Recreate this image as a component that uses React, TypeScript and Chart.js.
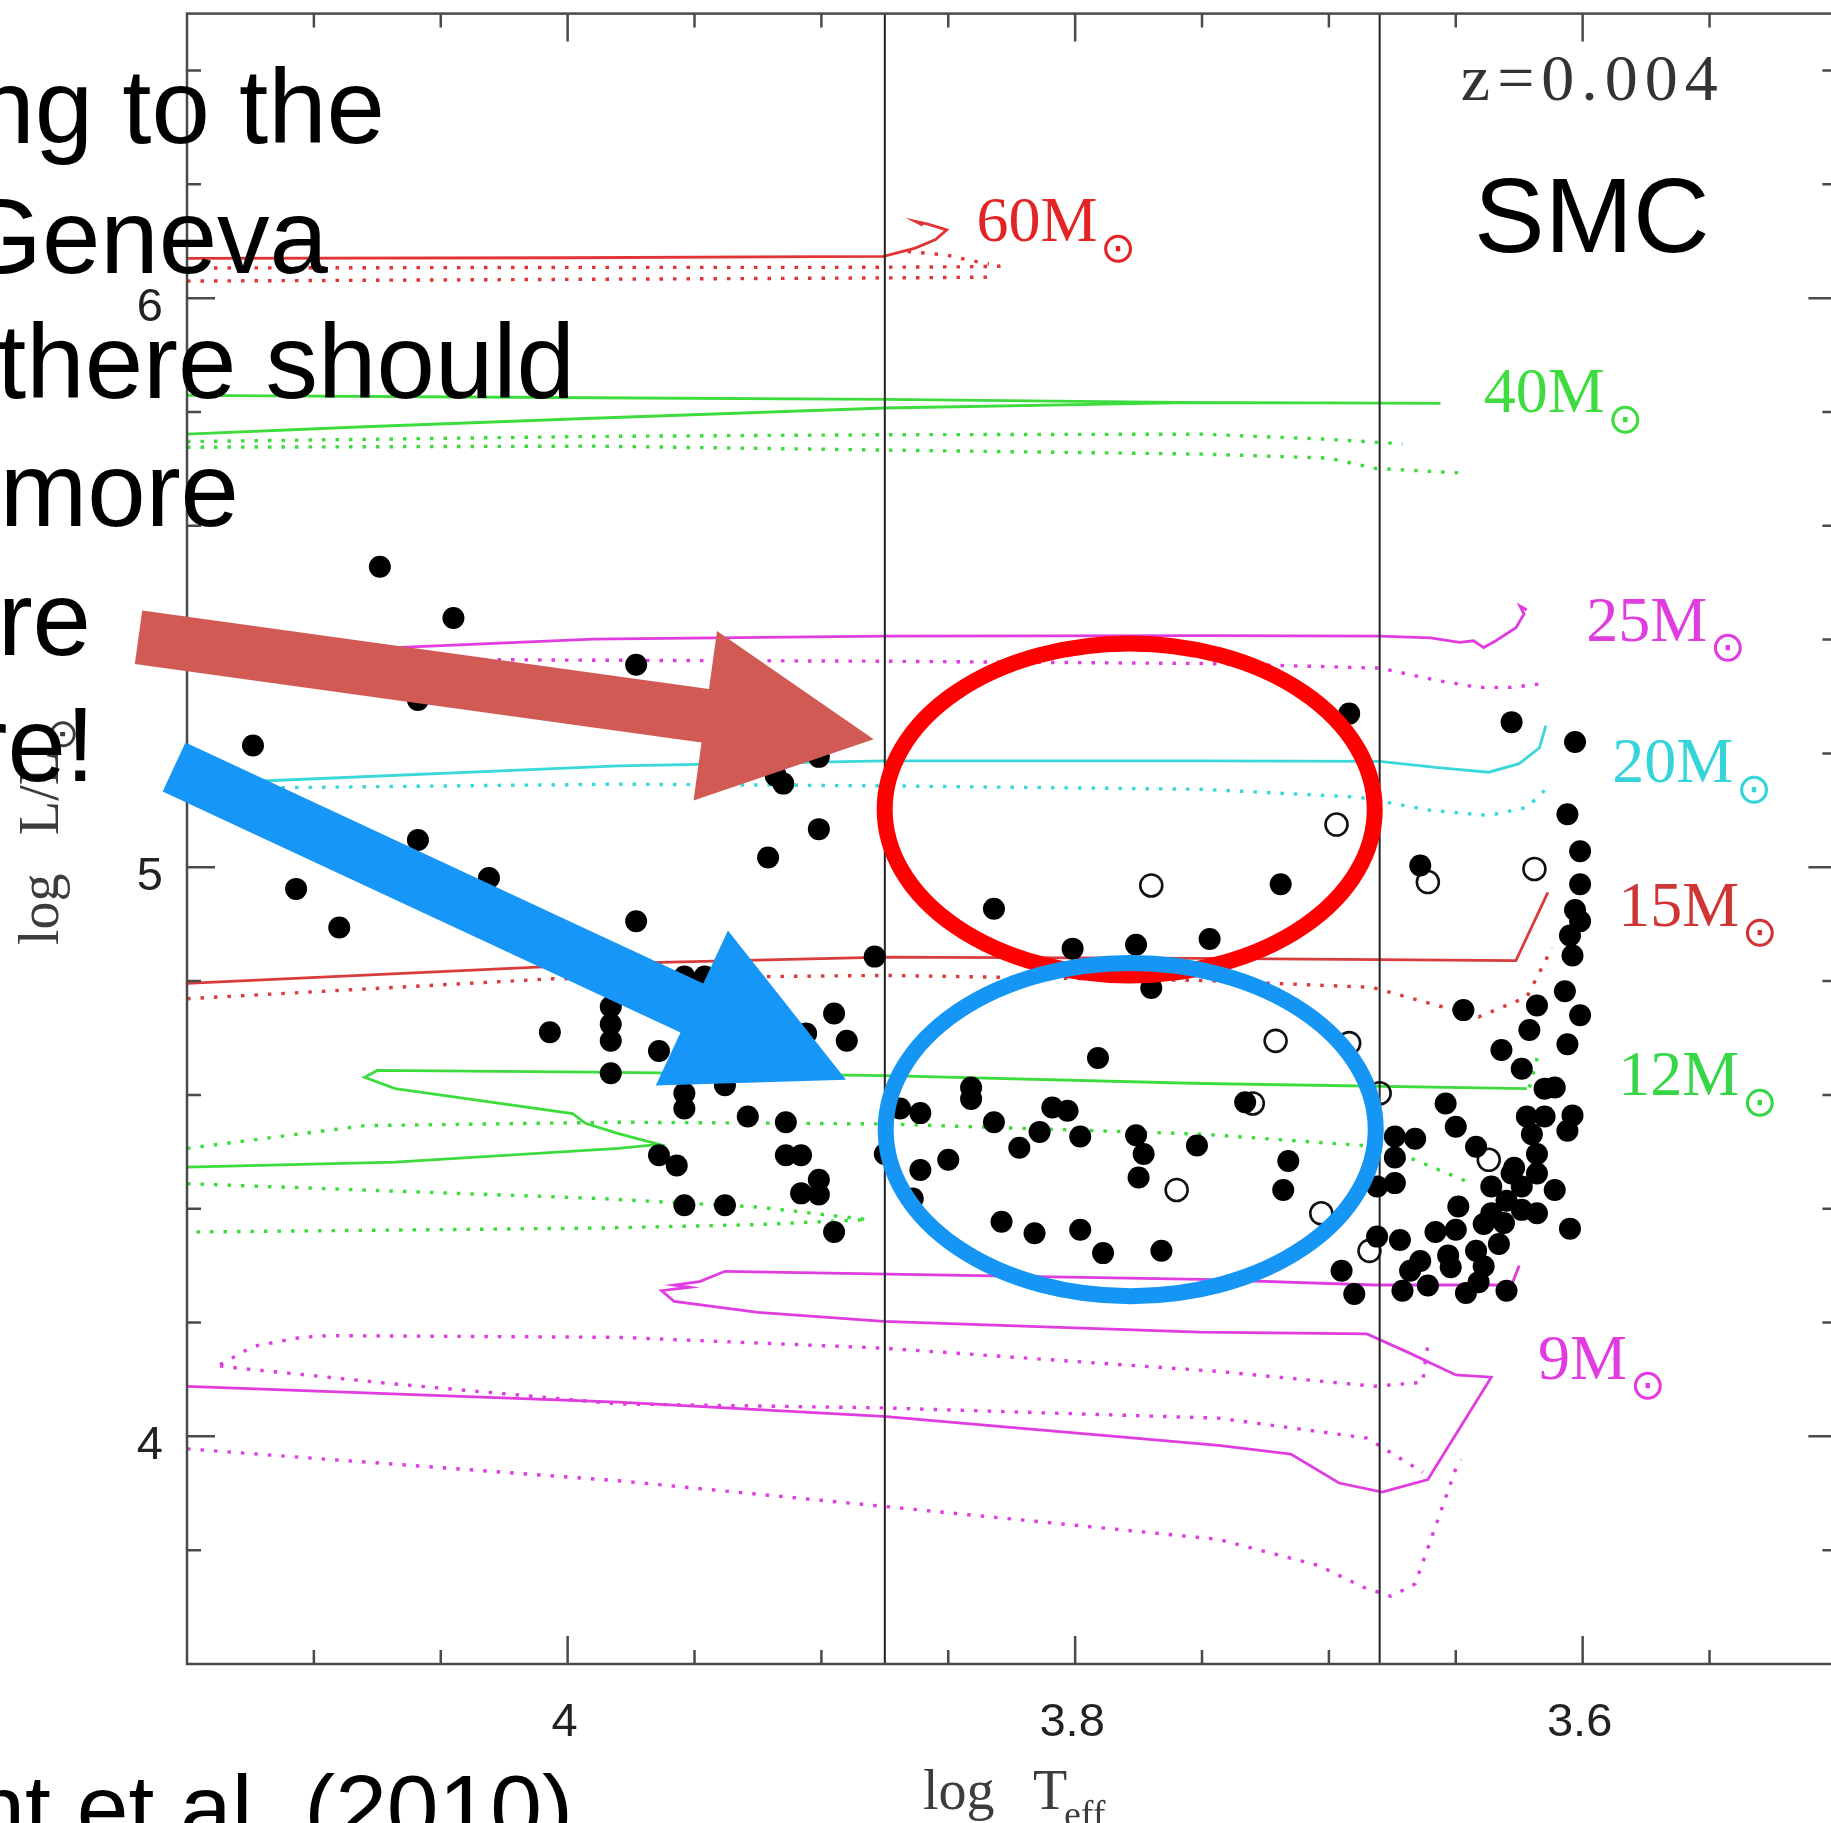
import React, { useEffect, useRef } from 'react';
import { Chart, registerables } from 'chart.js';

Chart.register(...registerables);

// ---------- axes ----------
const X_MIN = 3.5;
const X_MAX = 4.15;
const Y_MIN = 3.6;
const Y_MAX = 6.5;
const X_TICKS_MINOR = [4.1, 4.05, 3.95, 3.9, 3.85, 3.75, 3.7, 3.65, 3.55];
const X_TICKS_MAJOR = [4.0, 3.8, 3.6];
const X_TICK_LABELS = ['4', '3.8', '3.6'];
const Y_TICKS_MINOR = [3.8, 4.2, 4.4, 4.6, 4.8, 5.2, 5.4, 5.6, 5.8, 6.2, 6.4];
const Y_TICKS_MAJOR = [4, 5, 6];
const Y_TICK_LABELS = ['4', '5', '6'];
const VERTICAL_LINES = [3.875, 3.68];

// ---------- evolutionary tracks (log Teff, log L) ----------
const TRACK_60_SOLID = [[4.15, 6.070], [4.0, 6.071], [3.9, 6.073], [3.8755, 6.0735], [3.863, 6.088], [3.855, 6.103], [3.8506, 6.120], [3.858, 6.130], [3.863, 6.135], [3.860, 6.128]];
const TRACK_60_DOT_A = [[4.15, 6.053], [4.0, 6.054], [3.9, 6.054], [3.845, 6.055], [3.83, 6.056], [3.827, 6.062]];
const TRACK_60_DOT_B = [[4.15, 6.030], [4.0, 6.033], [3.9, 6.035], [3.86, 6.036], [3.832, 6.037]];
const TRACK_60_DOT_C = [[3.866, 6.082], [3.851, 6.076], [3.843, 6.068], [3.834, 6.060]];

const TRACK_40_SOLID = [[4.15, 5.829], [3.99, 5.825], [3.875, 5.822], [3.76, 5.817], [3.656, 5.815], [3.70, 5.816], [3.76, 5.816], [3.875, 5.807], [3.99, 5.789], [4.08, 5.774], [4.15, 5.761]];
const TRACK_40_DOT_A = [[4.15, 5.748], [3.99, 5.757], [3.875, 5.760], [3.75, 5.761], [3.70, 5.752], [3.671, 5.744]];
const TRACK_40_DOT_B = [[4.15, 5.738], [3.99, 5.740], [3.875, 5.733], [3.75, 5.726], [3.70, 5.719], [3.682, 5.701], [3.649, 5.693]];

const TRACK_25_SOLID = [[4.15, 5.382], [4.068, 5.386], [3.99, 5.401], [3.875, 5.406], [3.75, 5.407], [3.68, 5.406], [3.66, 5.403], [3.6485, 5.395], [3.643, 5.398], [3.639, 5.386], [3.6342, 5.398], [3.6263, 5.421], [3.6231, 5.445], [3.6247, 5.459], [3.622, 5.452]];
const TRACK_25_DOT = [[4.15, 5.368], [4.0, 5.364], [3.875, 5.362], [3.75, 5.358], [3.68, 5.35], [3.657, 5.328], [3.641, 5.316], [3.628, 5.316], [3.617, 5.322], [3.615, 5.334]];

const TRACK_20_SOLID = [[4.15, 5.146], [4.118, 5.152], [3.98, 5.178], [3.875, 5.187], [3.75, 5.187], [3.68, 5.186], [3.657, 5.175], [3.637, 5.167], [3.625, 5.182], [3.617, 5.210], [3.6145, 5.249]];
const TRACK_20_DOT = [[4.15, 5.139], [4.11, 5.140], [3.98, 5.146], [3.875, 5.143], [3.75, 5.137], [3.688, 5.123], [3.66, 5.10], [3.637, 5.091], [3.622, 5.105], [3.615, 5.135]];

const TRACK_15_SOLID = [[4.15, 4.796], [3.98, 4.831], [3.875, 4.842], [3.75, 4.840], [3.6263, 4.836], [3.6137, 4.956]];
const TRACK_15_DOT = [[4.15, 4.769], [4.006, 4.804], [3.875, 4.810], [3.75, 4.801], [3.683, 4.789], [3.641, 4.737], [3.622, 4.772], [3.612, 4.859]];

const TRACK_12_SOLID = [[4.15, 4.473], [4.068, 4.482], [3.98, 4.506], [3.964, 4.513], [3.98, 4.532], [3.993, 4.550], [3.998, 4.567], [4.068, 4.611], [4.080, 4.631], [4.075, 4.643], [3.99, 4.640], [3.875, 4.634], [3.75, 4.620], [3.622, 4.611]];
const TRACK_12_DOT_A = [[4.15, 4.506], [4.08, 4.546], [3.98, 4.552], [3.875, 4.549], [3.75, 4.531], [3.6865, 4.511], [3.669, 4.491], [3.644, 4.445]];
const TRACK_12_DOT_B = [[4.15, 4.444], [3.9874, 4.418], [3.9254, 4.403], [3.8817, 4.381], [3.9254, 4.372], [3.9874, 4.366], [4.15, 4.359]];
const TRACK_12_DOT_C = [[3.621, 4.613], [3.617, 4.68]];

const TRACK_9_SOLID = [[4.15, 4.088], [3.98, 4.060], [3.8755, 4.035], [3.7435, 3.984], [3.715, 3.969], [3.696, 3.918], [3.679, 3.902], [3.661, 3.924], [3.636, 4.104], [3.650, 4.108], [3.669, 4.148], [3.685, 4.180], [3.751, 4.183], [3.8755, 4.202], [3.925, 4.218], [3.958, 4.237], [3.963, 4.256], [3.952, 4.262], [3.958, 4.266], [3.948, 4.272], [3.938, 4.290], [3.75, 4.276], [3.682, 4.266], [3.628, 4.266], [3.625, 4.30]];
const TRACK_9_DOT_A = [[4.137, 4.126], [4.124, 4.158], [4.105, 4.174], [4.094, 4.177], [3.98, 4.174], [3.8755, 4.155], [3.7435, 4.114], [3.682, 4.088], [3.663, 4.095], [3.662, 4.133], [3.661, 4.16]];
const TRACK_9_DOT_B = [[4.137, 4.124], [4.13, 4.12], [4.068, 4.092], [3.98, 4.057], [3.8755, 4.05], [3.7435, 4.032], [3.685, 3.997], [3.663, 3.937]];
const TRACK_9_DOT_C = [[4.15, 3.978], [3.98, 3.922], [3.8755, 3.877], [3.7435, 3.819], [3.704, 3.773], [3.6865, 3.735], [3.6755, 3.719], [3.666, 3.741], [3.656, 3.867], [3.650, 3.943], [3.648, 3.959]];

// ---------- stars ----------
const STARS_FILLED = [
  [4.074, 5.528], [4.045, 5.438], [4.059, 5.294], [3.973, 5.356], [4.124, 5.214], [4.107, 4.962], [4.090, 4.894], [4.059, 5.048],
  [4.031, 4.981], [3.973, 4.905], [4.007, 4.710], [3.983, 4.755], [3.983, 4.724], [3.983, 4.695], [3.983, 4.638], [3.964, 4.677],
  [3.954, 4.603], [3.954, 4.576], [3.938, 4.617], [3.929, 4.562], [3.914, 4.552], [3.914, 4.494], [3.908, 4.494], [3.964, 4.494],
  [3.957, 4.476], [3.901, 4.451], [3.908, 4.427], [3.901, 4.425], [3.954, 4.406], [3.938, 4.406], [3.895, 4.359], [3.879, 4.843],
  [3.895, 4.743], [3.890, 4.695], [3.906, 4.708], [3.921, 5.017], [3.901, 5.067], [3.915, 5.147], [3.918, 5.161], [3.901, 5.194],
  [3.954, 4.808], [3.946, 4.808], [3.875, 4.496], [3.869, 4.576], [3.861, 4.568], [3.861, 4.468], [3.864, 4.418], [3.850, 4.486],
  [3.841, 4.613], [3.841, 4.593], [3.832, 4.552], [3.822, 4.507], [3.814, 4.535], [3.809, 4.578], [3.803, 4.572], [3.798, 4.527],
  [3.791, 4.665], [3.776, 4.529], [3.773, 4.496], [3.775, 4.455], [3.752, 4.511], [3.829, 4.377], [3.816, 4.357], [3.798, 4.363],
  [3.789, 4.322], [3.766, 4.326], [3.733, 4.587], [3.716, 4.484], [3.718, 4.433], [3.832, 4.927], [3.801, 4.857], [3.776, 4.864],
  [3.770, 4.788], [3.747, 4.874], [3.719, 4.970], [3.692, 5.270], [3.664, 5.003], [3.628, 5.255], [3.603, 5.220], [3.606, 5.093],
  [3.601, 5.028], [3.601, 4.970], [3.603, 4.925], [3.601, 4.905], [3.605, 4.880], [3.604, 4.845], [3.607, 4.782], [3.601, 4.740],
  [3.647, 4.749], [3.618, 4.757], [3.621, 4.714], [3.606, 4.689], [3.632, 4.679], [3.624, 4.646], [3.615, 4.611], [3.611, 4.613],
  [3.654, 4.585], [3.650, 4.544], [3.622, 4.562], [3.615, 4.562], [3.604, 4.564], [3.606, 4.537], [3.674, 4.527], [3.674, 4.490],
  [3.666, 4.523], [3.642, 4.509], [3.620, 4.531], [3.618, 4.496], [3.618, 4.462], [3.611, 4.433], [3.674, 4.445], [3.681, 4.439],
  [3.636, 4.439], [3.628, 4.462], [3.624, 4.439], [3.630, 4.414], [3.636, 4.392], [3.624, 4.398], [3.649, 4.404], [3.618, 4.392],
  [3.605, 4.365], [3.650, 4.363], [3.658, 4.359], [3.681, 4.351], [3.672, 4.345], [3.633, 4.338], [3.642, 4.326], [3.695, 4.291],
  [3.690, 4.250], [3.668, 4.291], [3.661, 4.265], [3.671, 4.256], [3.652, 4.297], [3.646, 4.252], [3.641, 4.271], [3.630, 4.256],
  [3.639, 4.299], [3.627, 4.472], [3.639, 4.373], [3.631, 4.375], [3.653, 4.318], [3.664, 4.308],
];
const STARS_OPEN = [
  [3.770, 4.968], [3.697, 5.075], [3.661, 4.974], [3.619, 4.997], [3.721, 4.695], [3.692, 4.691],
  [3.680, 4.603], [3.730, 4.585], [3.760, 4.433], [3.703, 4.392], [3.637, 4.486], [3.684, 4.326],
];

// ---------- labels ----------
const TRACK_LABELS = ['60M', '40M', '25M', '20M', '15M', '12M', '9M'];
const TRACK_LABEL_AT = [[3.8389, 6.0998], [3.639, 5.7996], [3.5986, 5.3977], [3.5883, 5.149], [3.586, 4.8974], [3.586, 4.599], [3.6176, 4.101]];
const TRACK_LABEL_COLORS = ['#e22424', '#3fdc3f', '#e03ce0', '#34d4da', '#cf3535', '#36d646', '#e03ce0'];
const Z_LABEL = 'z=0.004';
const Z_LABEL_AT = [3.648, 6.349];
const REGION_LABEL = 'SMC';
const X_TITLE = ['log', 'T', 'eff'];
const Y_TITLE = ['log', 'L/L'];

// ---------- annotations ----------
const ELLIPSE_CENTERS = [[3.7785, 5.1015], [3.7781, 4.5389]];
const ELLIPSE_RADII = [[0.09656, 0.2917], [0.09656, 0.2927]];
const ELLIPSE_COLORS = ['#ff0000', '#1696f4'];
const ARROW_TAILS = [[4.1691, 5.4042], [4.1551, 5.176]];
const ARROW_TIPS = [[3.8794, 5.2251], [3.8903, 4.6265]];
const ARROW_COLORS = ['#d25a54', '#1696f6'];
const SLIDE_LINES = ['ng to the', 'Geneva', 'there should', 'more', 're', 're!', 'nt et al. (2010)'];

const RED = '#e23434';
const RED15 = '#d83c3c';
const GREEN = '#3ddc3d';
const MAGENTA = '#e03ce0';
const CYAN = '#3ad8d8';

const TRACKS = [
  { d: TRACK_60_SOLID, c: RED, dot: false }, { d: TRACK_60_DOT_A, c: RED, dot: true }, { d: TRACK_60_DOT_B, c: RED, dot: true }, { d: TRACK_60_DOT_C, c: RED, dot: true },
  { d: TRACK_40_SOLID, c: GREEN, dot: false }, { d: TRACK_40_DOT_A, c: GREEN, dot: true }, { d: TRACK_40_DOT_B, c: GREEN, dot: true },
  { d: TRACK_25_SOLID, c: MAGENTA, dot: false }, { d: TRACK_25_DOT, c: MAGENTA, dot: true },
  { d: TRACK_20_SOLID, c: CYAN, dot: false }, { d: TRACK_20_DOT, c: CYAN, dot: true },
  { d: TRACK_15_SOLID, c: RED15, dot: false }, { d: TRACK_15_DOT, c: RED15, dot: true },
  { d: TRACK_12_SOLID, c: GREEN, dot: false }, { d: TRACK_12_DOT_A, c: GREEN, dot: true }, { d: TRACK_12_DOT_B, c: GREEN, dot: true }, { d: TRACK_12_DOT_C, c: GREEN, dot: true },
  { d: TRACK_9_SOLID, c: MAGENTA, dot: false }, { d: TRACK_9_DOT_A, c: MAGENTA, dot: true }, { d: TRACK_9_DOT_B, c: MAGENTA, dot: true }, { d: TRACK_9_DOT_C, c: MAGENTA, dot: true },
];

const pts = (arr: number[][]) => arr.map(([x, y]) => ({ x, y }));

const SANS = '"Liberation Sans", Arial, Helvetica, sans-serif';
const SERIF = '"Liberation Serif", "Times New Roman", serif';

function drawSun(ctx: any, left: number, cy: number, diameter: number, color: string) {
  ctx.save();
  ctx.font = `100px "DejaVu Sans", sans-serif`;
  let m = ctx.measureText('⊙');
  const w100 = m.actualBoundingBoxLeft + m.actualBoundingBoxRight;
  const size = (100 * diameter) / (w100 || 80);
  ctx.font = `${size}px "DejaVu Sans", sans-serif`;
  m = ctx.measureText('⊙');
  const x = left + m.actualBoundingBoxLeft;
  const y = cy + (m.actualBoundingBoxAscent - m.actualBoundingBoxDescent) / 2;
  ctx.fillStyle = color;
  ctx.textAlign = 'left';
  ctx.textBaseline = 'alphabetic';
  ctx.fillText('⊙', x, y);
  ctx.restore();
}

function drawArrow(ctx: any, tx: number, ty: number, hx: number, hy: number, shaftW: number, headW: number, headL: number, color: string) {
  const len = Math.hypot(hx - tx, hy - ty);
  const ux = (hx - tx) / len, uy = (hy - ty) / len;
  const nx = -uy, ny = ux;
  const bx = hx - ux * headL, by = hy - uy * headL;
  ctx.beginPath();
  ctx.moveTo(tx + nx * shaftW / 2, ty + ny * shaftW / 2);
  ctx.lineTo(bx + nx * shaftW / 2, by + ny * shaftW / 2);
  ctx.lineTo(bx + nx * headW / 2, by + ny * headW / 2);
  ctx.lineTo(hx, hy);
  ctx.lineTo(bx - nx * headW / 2, by - ny * headW / 2);
  ctx.lineTo(bx - nx * shaftW / 2, by - ny * shaftW / 2);
  ctx.lineTo(tx - nx * shaftW / 2, ty - ny * shaftW / 2);
  ctx.closePath();
  ctx.fillStyle = color;
  ctx.fill();
}

const overlayPlugin = {
  id: 'overlay',
  afterDatasetsDraw(chart: any) {
    const { ctx, chartArea: a } = chart;
    const sx = chart.scales.x;
    const sy = chart.scales.y;
    const px = (v: number) => sx.getPixelForValue(v);
    const py = (v: number) => sy.getPixelForValue(v);
    ctx.save();

    // frame
    ctx.strokeStyle = '#4a4a4a';
    ctx.lineWidth = 2.5;
    ctx.strokeRect(a.left, a.top, a.right - a.left, a.bottom - a.top);
    ctx.beginPath();
    const xt = (v: number, len: number) => {
      const x = px(v);
      ctx.moveTo(x, a.bottom); ctx.lineTo(x, a.bottom - len);
      ctx.moveTo(x, a.top); ctx.lineTo(x, a.top + len);
    };
    const yt = (v: number, len: number) => {
      const y = py(v);
      ctx.moveTo(a.left, y); ctx.lineTo(a.left + len, y);
      ctx.moveTo(a.right, y); ctx.lineTo(a.right - len, y);
    };
    X_TICKS_MINOR.forEach((v) => xt(v, 14));
    X_TICKS_MAJOR.forEach((v) => xt(v, 28));
    Y_TICKS_MINOR.forEach((v) => yt(v, 14));
    Y_TICKS_MAJOR.forEach((v) => yt(v, 28));
    ctx.stroke();

    // tick labels
    ctx.fillStyle = '#222';
    ctx.font = `47px ${SANS}`;
    ctx.textBaseline = 'alphabetic';
    ctx.textAlign = 'center';
    X_TICKS_MAJOR.forEach((v, i) => ctx.fillText(X_TICK_LABELS[i], px(v) - 3, a.bottom + 72));
    ctx.textAlign = 'right';
    Y_TICKS_MAJOR.forEach((v, i) => ctx.fillText(Y_TICK_LABELS[i], a.left - 24, py(v) + 23));

    // axis titles
    ctx.fillStyle = '#3c3c3c';
    ctx.textAlign = 'left';
    ctx.font = `56px ${SERIF}`;
    ctx.fillText(X_TITLE[0], 923, 1809);
    ctx.fillText(X_TITLE[1], 1033, 1809);
    ctx.font = `38px ${SERIF}`;
    ctx.fillText(X_TITLE[2], 1064, 1827);

    ctx.save();
    ctx.translate(58, 945);
    ctx.rotate(-Math.PI / 2);
    ctx.font = `56px ${SERIF}`;
    ctx.fillText(Y_TITLE[0], 0, 0);
    ctx.fillText(Y_TITLE[1], 110, 0);
    const w = ctx.measureText(Y_TITLE[1]).width;
    drawSun(ctx, 110 + w + 3, 4, 26, '#3c3c3c');
    ctx.restore();

    // track labels
    TRACK_LABELS.forEach((t, i) => {
      const [T, L] = TRACK_LABEL_AT[i];
      const x = px(T), y = py(L);
      ctx.font = `64px ${SERIF}`;
      ctx.fillStyle = TRACK_LABEL_COLORS[i];
      ctx.textAlign = 'left';
      ctx.fillText(t, x, y);
      const tw = ctx.measureText(t).width;
      drawSun(ctx, x + tw + 6, y + 7, 28, TRACK_LABEL_COLORS[i]);
    });

    // z label
    ctx.fillStyle = '#333';
    ctx.font = `66px ${SERIF}`;
    (ctx as any).letterSpacing = '7px';
    ctx.fillText(Z_LABEL, px(Z_LABEL_AT[0]), py(Z_LABEL_AT[1]));
    (ctx as any).letterSpacing = '0px';

    // SMC
    ctx.fillStyle = '#000';
    ctx.font = `106px ${SANS}`;
    ctx.fillText(REGION_LABEL, 1474, 252);

    // ellipses
    ELLIPSE_CENTERS.forEach(([T, L], i) => {
      const cx = px(T), cy = py(L);
      const rx = Math.abs(px(T + ELLIPSE_RADII[i][0]) - cx);
      const ry = Math.abs(py(L + ELLIPSE_RADII[i][1]) - cy);
      ctx.beginPath();
      ctx.ellipse(cx, cy, rx, ry, 0, 0, Math.PI * 2);
      ctx.strokeStyle = ELLIPSE_COLORS[i];
      ctx.lineWidth = 16;
      ctx.stroke();
    });

    // arrows
    ARROW_TAILS.forEach(([T, L], i) => {
      drawArrow(ctx, px(T), py(L), px(ARROW_TIPS[i][0]), py(ARROW_TIPS[i][1]), 54, 171, 170, ARROW_COLORS[i]);
    });

    // slide text overlay
    ctx.fillStyle = '#000';
    ctx.textAlign = 'right';
    ctx.font = `105px ${SANS}`;
    const rights = [385, 328, 575, 239, 91, 95];
    const bases = [143, 273, 398, 526, 655, 781];
    SLIDE_LINES.slice(0, 6).forEach((s, i) => ctx.fillText(s, rights[i], bases[i]));
    ctx.font = `93px ${SANS}`;
    ctx.fillText(SLIDE_LINES[6], 573, 1840);

    ctx.restore();
  },
};

export default function App() {
  const ref = useRef<HTMLCanvasElement>(null);
  useEffect(() => {
    const datasets: any[] = [
      {
        data: pts(STARS_FILLED), pointRadius: 11, pointBackgroundColor: '#000', pointBorderWidth: 0, order: 0,
      },
      {
        data: pts(STARS_OPEN), pointRadius: 11, pointBackgroundColor: 'rgba(255,255,255,0)', pointBorderColor: '#111', pointBorderWidth: 2.6, order: 1,
      },
      ...VERTICAL_LINES.map((v) => ({
        data: [{ x: v, y: Y_MIN }, { x: v, y: Y_MAX }], showLine: true, pointRadius: 0, borderColor: '#222', borderWidth: 2, order: 2,
      })),
      ...TRACKS.map((t) => ({
        data: pts(t.d), showLine: true, pointRadius: 0, borderColor: t.c, borderWidth: t.dot ? 3.4 : 2.8,
        borderDash: t.dot ? [3.5, 10] : [], tension: 0, order: 3,
      })),
    ];
    const chart = new Chart(ref.current as HTMLCanvasElement, {
      type: 'scatter',
      data: { datasets },
      options: {
        responsive: false,
        animation: false,
        devicePixelRatio: 1,
        events: [],
        layout: { padding: { left: 187, top: 12, right: 11, bottom: 159 } },
        plugins: { legend: { display: false }, tooltip: { enabled: false } },
        scales: {
          x: { type: 'linear', min: X_MIN, max: X_MAX, reverse: true, display: false },
          y: { type: 'linear', min: Y_MIN, max: Y_MAX, display: false },
        },
      } as any,
      plugins: [overlayPlugin],
    });
    return () => chart.destroy();
  }, []);
  return (
    <div style={{ position: 'fixed', left: 0, top: 0, width: 1850, height: 1823, background: '#fff', overflow: 'hidden' }}>
      <canvas ref={ref} width={1850} height={1823} style={{ display: 'block', width: 1850, height: 1823 }} />
    </div>
  );
}
